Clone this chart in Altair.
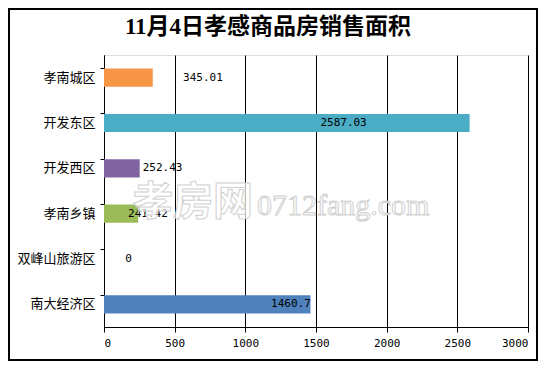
import altair as alt
import pandas as pd

categories = ["孝南城区", "开发东区", "开发西区", "孝南乡镇", "双峰山旅游区", "南大经济区"]
values = [345.01, 2587.03, 252.43, 241.42, 0, 1460.7]
value_labels = ["345.01", "2587.03", "252.43", "241.42", "0", "1460.7"]
label_anchor = [700, 1695, 414, 311, 173, 1323]
bar_colors = ["#F79646", "#4BACC6", "#8064A2", "#9BBB59", "#C0504D", "#4F81BD"]
x_ticks = [0, 500, 1000, 1500, 2000, 2500, 3000]
title_text = ["11月4日孝感商品房销售面积"]
watermark_cn = ["孝房网"]
watermark_en = ["0712fang.com"]

df = pd.DataFrame({"区域": categories, "面积": values, "标签": value_labels, "标签位置": label_anchor})

W, H = 424, 272

y_enc = alt.Y(
    "区域:N", sort=categories,
    scale=alt.Scale(paddingInner=0.6, paddingOuter=0.3),
    axis=alt.Axis(title=None, labelFont="Noto Sans CJK SC", labelFontSize=13, labelColor="black",
                  domainColor="black", tickColor="black", tickSize=4, labelPadding=5,
                  bandPosition=0, grid=False, ticks=True),
)
x_scale = alt.Scale(domain=[0, 3000], nice=False)

bars = alt.Chart(df).mark_bar().encode(
    y=y_enc,
    x=alt.X("面积:Q", scale=x_scale,
            axis=alt.Axis(title=None, values=x_ticks, format="d", grid=True, gridColor="black", gridOpacity=1,
                          gridWidth=1, domainColor="black", tickColor="black", tickSize=5,
                          labelFont="DejaVu Sans Mono", labelFontSize=11, labelColor="black",
                          labelPadding=5)),
    color=alt.Color("区域:N", sort=categories, scale=alt.Scale(domain=categories, range=bar_colors), legend=None),
)

labels = alt.Chart(df).mark_text(font="DejaVu Sans Mono", fontSize=11, color="black", align="center", baseline="middle").encode(
    y=alt.Y("区域:N", sort=categories),
    x=alt.X("标签位置:Q", scale=x_scale),
    text="标签:N",
)

wm1 = alt.Chart(pd.DataFrame({"t": watermark_cn})).mark_text(
    font="Noto Sans CJK SC", fontSize=40, fontWeight="bold", fill="white", fillOpacity=0.7,
    stroke="#d0d0d0", strokeWidth=1, align="left", baseline="middle"
).encode(x=alt.value(29), y=alt.value(148), text="t:N")

wm2 = alt.Chart(pd.DataFrame({"t": watermark_en})).mark_text(
    font="Liberation Serif", fontSize=30, fill="white", fillOpacity=0.7,
    stroke="#d0d0d0", strokeWidth=1, align="left", baseline="alphabetic"
).encode(x=alt.value(153), y=alt.value(160), text="t:N")

title = alt.Chart(pd.DataFrame({"t": title_text})).mark_text(
    font="Liberation Serif, Noto Sans CJK SC", fontSize=23, fontWeight="bold", color="black",
    align="center", baseline="middle"
).encode(x=alt.value(164), y=alt.value(-28), text="t:N")

border = alt.Chart(pd.DataFrame({"t": [0]})).mark_rect(filled=False, stroke="black", strokeWidth=2).encode(
    x=alt.value(-95), x2=alt.value(433), y=alt.value(-46), y2=alt.value(305)
)

chart = alt.layer(bars, labels, wm1, wm2, title, border).properties(
    width=W, height=H,
    autosize=alt.AutoSizeParams(type="none"),
    padding={"left": 96, "top": 47, "right": 10, "bottom": 34},
).configure_view(stroke=None).configure(background="white")

chart.save("out.html", embed_options={"renderer": "svg", "actions": False})
